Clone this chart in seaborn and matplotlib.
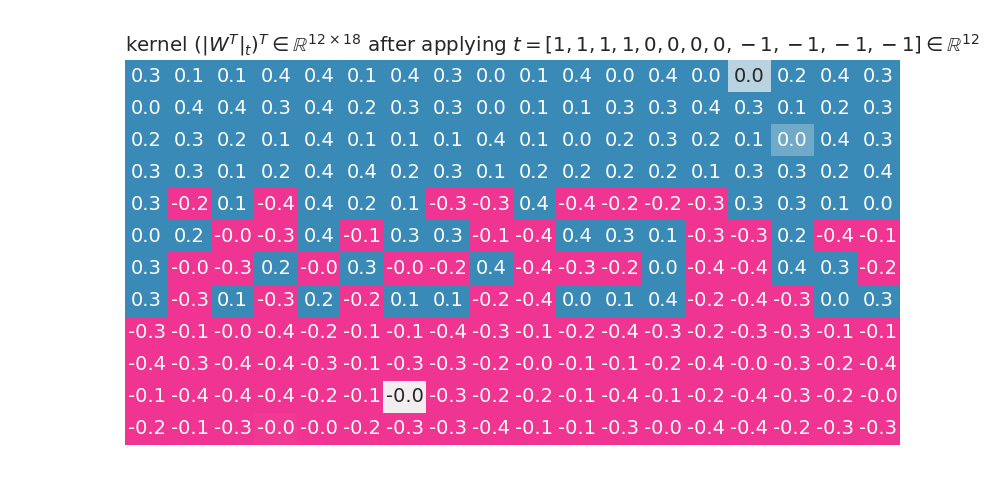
import numpy as np
import pandas as pd
import matplotlib
matplotlib.use('Agg')
import matplotlib.pyplot as plt
import seaborn as sns

sns.set_theme(style='white')

# Kernel values (12 rows x 18 columns).
# Cells printed as 0.0 / -0.0 but fully coloured get a small estimated value.
row_0 = [0.3, 0.1, 0.1, 0.4, 0.4, 0.1, 0.4, 0.3, 0.02, 0.1, 0.4, 0.02, 0.4, 0.02, 0.003, 0.2, 0.4, 0.3]
row_1 = [0.02, 0.4, 0.4, 0.3, 0.4, 0.2, 0.3, 0.3, 0.02, 0.1, 0.1, 0.3, 0.3, 0.4, 0.3, 0.1, 0.2, 0.3]
row_2 = [0.2, 0.3, 0.2, 0.1, 0.4, 0.1, 0.1, 0.1, 0.4, 0.1, 0.02, 0.2, 0.3, 0.2, 0.1, 0.007, 0.4, 0.3]
row_3 = [0.3, 0.3, 0.1, 0.2, 0.4, 0.4, 0.2, 0.3, 0.1, 0.2, 0.2, 0.2, 0.2, 0.1, 0.3, 0.3, 0.2, 0.4]
row_4 = [0.3, -0.2, 0.1, -0.4, 0.4, 0.2, 0.1, -0.3, -0.3, 0.4, -0.4, -0.2, -0.2, -0.3, 0.3, 0.3, 0.1, 0.02]
row_5 = [0.02, 0.2, -0.02, -0.3, 0.4, -0.1, 0.3, 0.3, -0.1, -0.4, 0.4, 0.3, 0.1, -0.3, -0.3, 0.2, -0.4, -0.1]
row_6 = [0.3, -0.02, -0.3, 0.2, -0.02, 0.3, -0.02, -0.2, 0.4, -0.4, -0.3, -0.2, 0.02, -0.4, -0.4, 0.4, 0.3, -0.2]
row_7 = [0.3, -0.3, 0.1, -0.3, 0.2, -0.2, 0.1, 0.1, -0.2, -0.4, 0.02, 0.1, 0.4, -0.2, -0.4, -0.3, 0.02, 0.3]
row_8 = [-0.3, -0.1, -0.02, -0.4, -0.2, -0.1, -0.1, -0.4, -0.3, -0.1, -0.2, -0.4, -0.3, -0.2, -0.3, -0.3, -0.1, -0.1]
row_9 = [-0.4, -0.3, -0.4, -0.4, -0.3, -0.1, -0.3, -0.3, -0.2, -0.02, -0.1, -0.1, -0.2, -0.4, -0.02, -0.3, -0.2, -0.4]
row_10 = [-0.1, -0.4, -0.4, -0.4, -0.2, -0.1, -0.0003, -0.3, -0.2, -0.2, -0.1, -0.4, -0.1, -0.2, -0.4, -0.3, -0.2, -0.02]
row_11 = [-0.2, -0.1, -0.3, -0.0097, -0.02, -0.2, -0.3, -0.3, -0.4, -0.1, -0.1, -0.3, -0.02, -0.4, -0.4, -0.2, -0.3, -0.3]

kernel = pd.DataFrame([row_0, row_1, row_2, row_3, row_4, row_5,
                       row_6, row_7, row_8, row_9, row_10, row_11])

# pink for negative, light grey at zero, blue for positive
cmap = sns.blend_palette(['#ef3591', '#f2f2f2', '#3a8ab8'], as_cmap=True)

fig, ax = plt.subplots(figsize=(10, 5), dpi=100)
sns.heatmap(kernel, ax=ax, cmap=cmap, center=0, vmin=-0.01, vmax=0.01,
            annot=True, fmt='.1f', annot_kws={'fontsize': 14},
            cbar=False, xticklabels=False, yticklabels=False)

ax.set_title(r'kernel $(|W^T|_t)^T \in \mathbb{R}^{12\times18}$ after applying '
             r'$t = [1,1,1,1,0,0,0,0,-1,-1,-1,-1] \in \mathbb{R}^{12}$',
             loc='left', fontsize=14.3)

plt.savefig('out.png', dpi=100)
plt.close()
